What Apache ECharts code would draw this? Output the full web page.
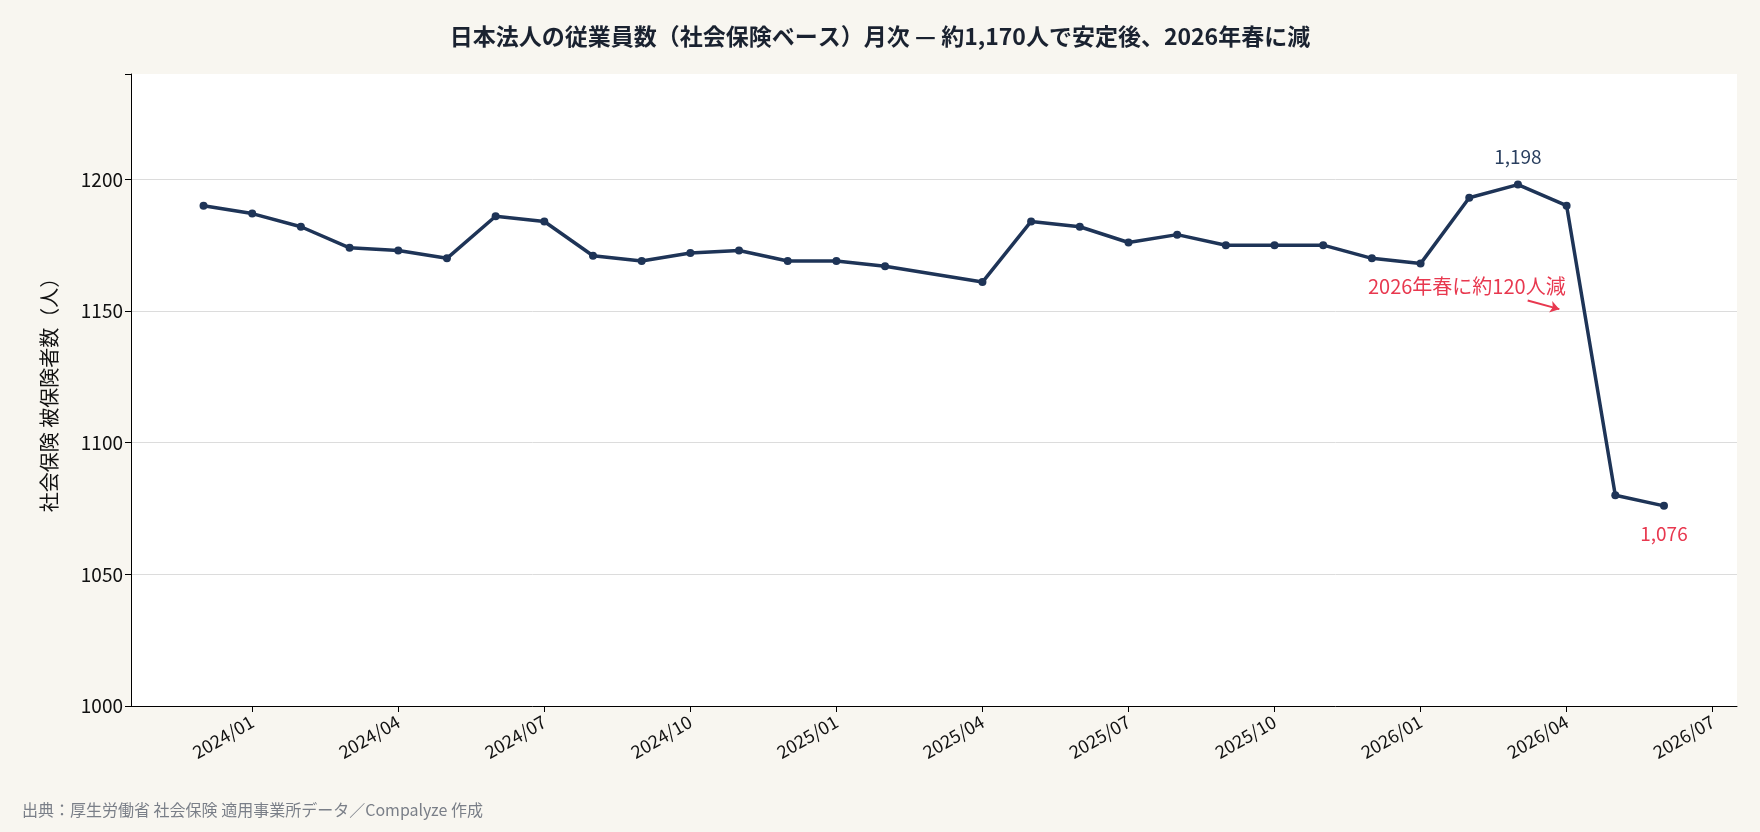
<!DOCTYPE html>
<html><head><meta charset="utf-8">
<script src="https://cdn.jsdelivr.net/npm/echarts@6/dist/echarts.min.js"></script>
<style>html,body{margin:0;background:#f8f6f0}#c{width:1760px;height:832px}</style>
</head><body><div id="c"></div>
<script>
// months offset from 2024/01
const months = [-1,0,1,2,3,4,5,6,7,8,9,10,11,12,13,15,16,17,18,19,20,21,22,23,24,25,26,27,28,29];
const values = [1190,1187,1182,1174,1173,1170,1186,1184,1171,1169,1172,1173,1169,1169,1167,1161,1184,1182,1176,1179,1175,1175,1175,1170,1168,1193,1198,1190,1080,1076];
const tickMonths = [0,3,6,9,12,15,18,21,24,27,30];
const tickLabels = ['2024/01','2024/04','2024/07','2024/10','2025/01','2025/04','2025/07','2025/10','2026/01','2026/04','2026/07'];
const font = '"Noto Sans CJK JP", "Noto Sans", sans-serif';
const data = months.map((m,i)=>{
  const d = {value:[m, values[i]]};
  if (values[i]===1198) d.label={show:true,position:'top',distance:14,formatter:'1,198',color:'#2a3f5f',fontSize:19};
  if (i===values.length-1) d.label={show:true,position:'bottom',distance:14,formatter:'1,076',color:'#e8384f',fontSize:19};
  return d;
});
const chart = echarts.init(document.getElementById('c'));
chart.setOption({
  backgroundColor:'#f8f6f0',
  textStyle:{fontFamily:font},
  title:{text:'日本法人の従業員数（社会保険ベース）月次 — 約1,170人で安定後、2026年春に減',left:'center',top:20,
    textStyle:{fontSize:23,fontWeight:'bold',color:'#1a2230',fontFamily:font}},
  graphic:[{type:'text',left:22,top:802,style:{text:'出典：厚生労働省 社会保険 適用事業所データ／Compalyze 作成',fill:'#7a7f88',fontSize:16,fontFamily:font}}],
  grid:{left:131,right:23,top:74,bottom:126,show:true,backgroundColor:'#fff',borderWidth:0},
  xAxis:{type:'value',min:-2.49,max:30.5,
    axisLine:{show:true,onZero:false,lineStyle:{color:'#000'}},
    splitLine:{show:false},
    axisTick:{show:true,customValues:tickMonths,length:6,lineStyle:{color:'#000'}},
    axisLabel:{customValues:tickMonths,rotate:30,color:'#111',fontSize:18,margin:14,
      formatter:v=>tickLabels[tickMonths.indexOf(Math.round(v))]||''}},
  yAxis:{type:'value',min:1000,max:1240,interval:50,
    name:'社会保険 被保険者数（人）',nameLocation:'middle',nameGap:72,nameRotate:90,
    nameTextStyle:{fontSize:20,color:'#111'},
    axisLine:{show:true,onZero:false,lineStyle:{color:'#000'}},
    axisTick:{show:true,length:6,lineStyle:{color:'#000'}},
    axisLabel:{color:'#111',fontSize:19,formatter:v=>v>1200?'':v},
    splitLine:{lineStyle:{color:'#dcdcdc'},showMinLine:false,showMaxLine:false}},
  series:[{type:'line',data:data,symbol:'circle',symbolSize:8,
    lineStyle:{color:'#1e3457',width:3.5},itemStyle:{color:'#1e3457'},
    markLine:{silent:true,symbol:['none','arrow'],symbolSize:9,label:{show:false},
      lineStyle:{color:'#e8384f',width:2,type:'solid'},
      data:[[{coord:[26.2,1154]},{coord:[26.85,1150.7]}]]},
    markPoint:{symbol:'circle',symbolSize:0,
      data:[{coord:[24.95,1159.5],label:{show:true,formatter:'2026年春に約120人減',color:'#e8384f',fontSize:20}}]}
  }]
});
</script></body></html>
